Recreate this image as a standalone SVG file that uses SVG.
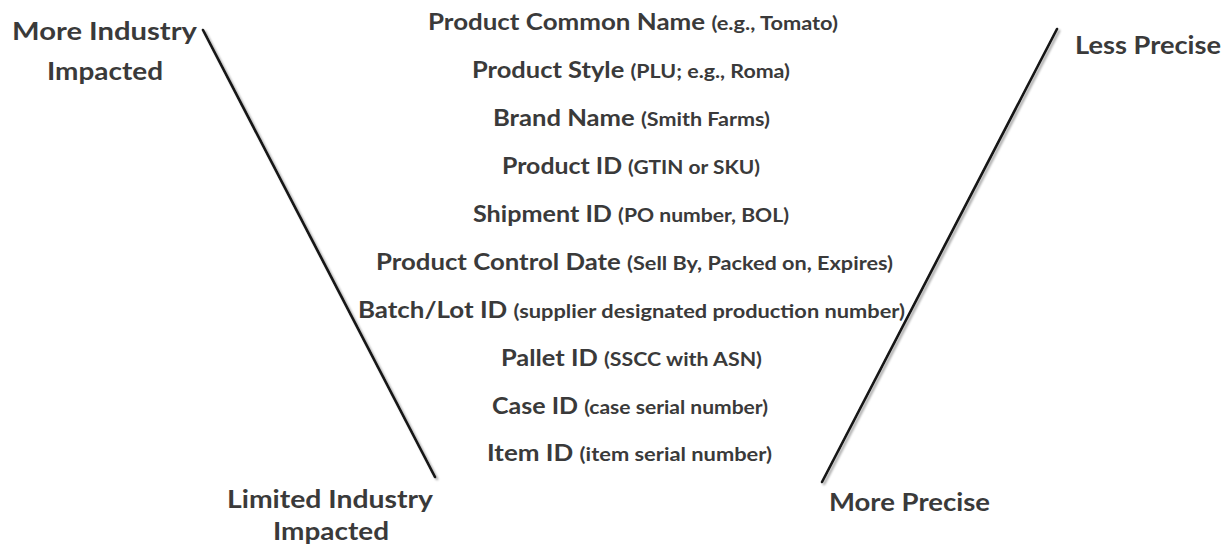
<svg xmlns="http://www.w3.org/2000/svg" width="1224" height="545" viewBox="0 0 1224 545">
  <defs>
    <filter id="soft-shadow" x="-20%" y="-5%" width="140%" height="110%">
      <feDropShadow dx="2" dy="2" stdDeviation="1.2" flood-color="#000" flood-opacity="0.35"/>
    </filter>
  </defs>
  <style>
    .lbl { font-family: Lato, "Open Sans", "Liberation Sans", sans-serif; font-weight: bold; fill: #3a3a3a; }
    .main { font-size: 22px; }
    .sub { font-size: 18.5px; }
    .side { font-size: 25.5px; }
    .edge { stroke: #141414; stroke-width: 2.6; stroke-linecap: round; fill: none; filter: url(#soft-shadow); }
  </style>
  <rect width="1224" height="545" fill="#ffffff"/>

  <!-- two slanted edges forming the funnel -->
  <g id="connectors">
    <line class="edge" x1="203" y1="30" x2="435" y2="477"/>
    <line class="edge" x1="1057" y1="29" x2="822" y2="482"/>
  </g>

  <!-- corner captions -->
  <g id="more-industry">
    <text class="lbl side" x="12" y="40" textLength="185" lengthAdjust="spacingAndGlyphs">More Industry</text>
    <text class="lbl side" x="47" y="80" textLength="116" lengthAdjust="spacingAndGlyphs">Impacted</text>
  </g>
  <g id="less-precise">
    <text class="lbl side" x="1075" y="54" textLength="146" lengthAdjust="spacingAndGlyphs">Less Precise</text>
  </g>
  <g id="limited-industry">
    <text class="lbl side" x="227" y="508" textLength="206" lengthAdjust="spacingAndGlyphs">Limited Industry</text>
    <text class="lbl side" x="273" y="540" textLength="116" lengthAdjust="spacingAndGlyphs">Impacted</text>
  </g>
  <g id="more-precise">
    <text class="lbl side" x="829" y="511" textLength="161" lengthAdjust="spacingAndGlyphs">More Precise</text>
  </g>

  <!-- identifier levels, coarse to fine -->
  <g id="common-name">
    <text class="lbl main" x="428" y="30" textLength="410" lengthAdjust="spacingAndGlyphs">Product Common Name <tspan class="sub">(e.g., Tomato)</tspan></text>
  </g>
  <g id="product-style">
    <text class="lbl main" x="472" y="78" textLength="318" lengthAdjust="spacingAndGlyphs">Product Style <tspan class="sub">(PLU; e.g., Roma)</tspan></text>
  </g>
  <g id="brand-name">
    <text class="lbl main" x="493" y="126" textLength="277" lengthAdjust="spacingAndGlyphs">Brand Name <tspan class="sub">(Smith Farms)</tspan></text>
  </g>
  <g id="product-id">
    <text class="lbl main" x="502" y="174" textLength="258" lengthAdjust="spacingAndGlyphs">Product ID <tspan class="sub">(GTIN or SKU)</tspan></text>
  </g>
  <g id="shipment-id">
    <text class="lbl main" x="473" y="222" textLength="316" lengthAdjust="spacingAndGlyphs">Shipment ID <tspan class="sub">(PO number, BOL)</tspan></text>
  </g>
  <g id="control-date">
    <text class="lbl main" x="376" y="270" textLength="517" lengthAdjust="spacingAndGlyphs">Product Control Date <tspan class="sub">(Sell By, Packed on, Expires)</tspan></text>
  </g>
  <g id="batch-lot">
    <text class="lbl main" x="358" y="318" textLength="547" lengthAdjust="spacingAndGlyphs">Batch/Lot ID <tspan class="sub">(supplier designated production number)</tspan></text>
  </g>
  <g id="pallet-id">
    <text class="lbl main" x="501" y="366" textLength="261" lengthAdjust="spacingAndGlyphs">Pallet ID <tspan class="sub">(SSCC with ASN)</tspan></text>
  </g>
  <g id="case-id">
    <text class="lbl main" x="492" y="414" textLength="276" lengthAdjust="spacingAndGlyphs">Case ID <tspan class="sub">(case serial number)</tspan></text>
  </g>
  <g id="item-id">
    <text class="lbl main" x="487" y="461" textLength="285" lengthAdjust="spacingAndGlyphs">Item ID <tspan class="sub">(item serial number)</tspan></text>
  </g>
</svg>
